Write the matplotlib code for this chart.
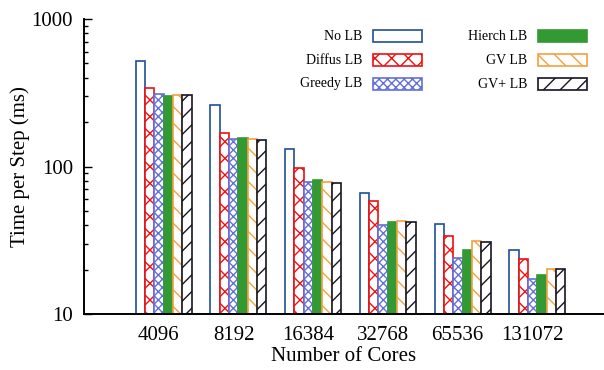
import matplotlib
matplotlib.use("Agg")
import matplotlib.pyplot as plt
from matplotlib.patches import Rectangle
import numpy as np

plt.rcParams['font.family'] = ['Liberation Serif', 'DejaVu Serif']
plt.rcParams['hatch.linewidth'] = 1.0

# data
cores = ["4096", "8192", "16384", "32768", "65536", "131072"]
series = ["No LB", "Diffus LB", "Greedy LB", "Hierch LB", "GV LB", "GV+ LB"]
no_lb = [519, 262, 131, 66, 41, 27.3]
diffus_lb = [340, 169, 98, 58, 34, 23.5]
greedy_lb = [309, 153, 78, 40, 24, 17.3]
hierch_lb = [300, 156, 81, 42.2, 27.2, 18.3]
gv_lb = [307, 154, 78, 42.9, 31.4, 20.3]
gvplus_lb = [305, 151, 77.5, 42, 30.6, 20.3]
values = [no_lb, diffus_lb, greedy_lb, hierch_lb, gv_lb, gvplus_lb]

# style per series: (face, edge, hatch)
styles = [
    ("white", "#1f4f96", None),
    ("white", "#ee1111", "xx"),
    ("white", "#6470da", "xxxx"),
    ("#339933", "#339933", None),
    ("white", "#f5a040", "\\\\"),
    ("white", "#151525", "//"),
]

W, H = 604, 370
fig = plt.figure(figsize=(W / 100, H / 100), dpi=100)
ax = fig.add_axes([84 / W, 1 - 314 / H, 520 / W, 295 / H])

x = np.arange(len(cores))
bw = 0.125
for i, (vals, (fc, ec, ht)) in enumerate(zip(values, styles)):
    ax.bar(x + (i - 2.5) * bw, vals, width=bw, facecolor=fc, edgecolor=ec,
           hatch=ht, linewidth=1.2, bottom=0)

ax.set_yscale("log")
ax.set_ylim(10, 1000)
ax.set_xlim(-1.067, 5.894)
ax.set_yticks([10, 100, 1000])
ax.set_yticklabels(["10", "100", "1000"])
ax.set_xticks(x - 0.065)
ax.set_xticklabels(cores)
ax.tick_params(axis="x", length=0, pad=9, labelsize=15)
ax.tick_params(axis="y", which="major", direction="in", length=6, width=1, labelsize=15, pad=8)
ax.tick_params(axis="y", which="minor", direction="in", length=3, width=1)
for s in ["top", "right"]:
    ax.spines[s].set_visible(False)
for s in ["left", "bottom"]:
    ax.spines[s].set_linewidth(1.4)
ax.set_ylabel("Time per Step (ms)", fontsize=15, labelpad=1)
ax.set_xlabel("Number of Cores", fontsize=15, labelpad=1)

# gnuplot-style legend: text right aligned, swatch to the right
def fx(px):
    return px / W

def fy(py):
    return 1 - py / H

text_right = [362, 527]
box_left = [373, 537.5]
box_w = 49
box_h = 11
rows = [36, 60, 84]
for i, (name, (fc, ec, ht)) in enumerate(zip(series, styles)):
    col, row = divmod(i, 3)
    yc = rows[row]
    fig.text(fx(text_right[col]), fy(yc), name, ha="right", va="center", fontsize=10)
    r = Rectangle((fx(box_left[col]), fy(yc + box_h / 2)), box_w / W, box_h / H,
                  transform=fig.transFigure, facecolor=fc, edgecolor=ec,
                  hatch=ht, linewidth=1.2)
    fig.add_artist(r)

fig.savefig("out.png", dpi=100)
